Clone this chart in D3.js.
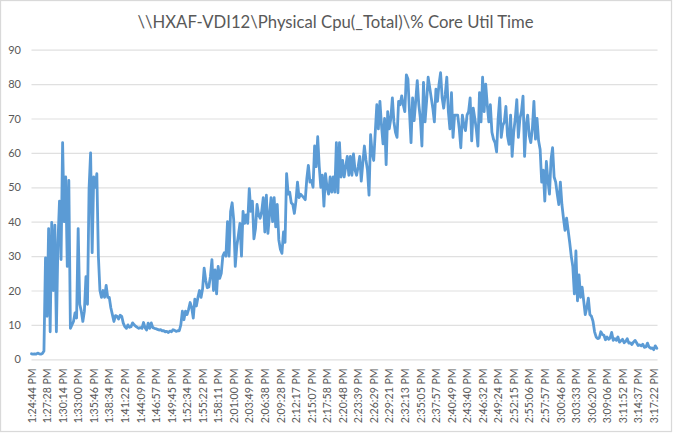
<!DOCTYPE html>
<html>
<head>
<meta charset="utf-8">
<script src="https://cdn.jsdelivr.net/npm/d3@7"></script>
<style>
  html, body { margin: 0; padding: 0; background: #fff; }
  svg { display: block; }
  text { font-family: Lato, "Open Sans", sans-serif; fill: #595959; }
</style>
</head>
<body>
<div id="chart"></div>
<script>
// one label every 10 samples
var tickLabels = [
  "1:24:44 PM", "1:27:28 PM", "1:30:14 PM", "1:33:00 PM", "1:35:46 PM", "1:38:34 PM", "1:41:22 PM", "1:44:09 PM",
  "1:46:57 PM", "1:49:45 PM", "1:52:34 PM", "1:55:22 PM", "1:58:11 PM", "2:01:00 PM", "2:03:49 PM", "2:06:38 PM",
  "2:09:28 PM", "2:12:17 PM", "2:15:07 PM", "2:17:58 PM", "2:20:48 PM", "2:23:39 PM", "2:26:29 PM", "2:29:21 PM",
  "2:32:13 PM", "2:35:05 PM", "2:37:57 PM", "2:40:49 PM", "2:43:40 PM", "2:46:32 PM", "2:49:24 PM", "2:52:15 PM",
  "2:55:06 PM", "2:57:57 PM", "3:00:46 PM", "3:03:33 PM", "3:06:20 PM", "3:09:06 PM", "3:11:52 PM", "3:14:37 PM",
  "3:17:22 PM"
];

var yTicks = [0, 10, 20, 30, 40, 50, 60, 70, 80, 90];

var coreUtil = [
  1.6, 1.5, 1.6, 1.5, 1.8, 1.6, 1.5, 1.7, 2.4, 29.5,
  12.5, 38, 8, 39.8, 20, 39, 8, 34, 46, 29, 63,
  40, 53, 27, 52, 9, 10, 11, 13.5, 12, 38,
  16, 14, 11, 14, 24, 16, 49.5, 60, 31, 53,
  50, 54, 30, 20, 18, 20, 18, 21.5, 18, 18,
  15, 13, 11, 12.7, 12.5, 11.7, 12.8, 12.5, 10.5, 9.5, 9,
  10, 9.3, 9.5, 10.6, 10, 9.6, 9.3, 9, 9.2, 9,
  10.7, 9.2, 8.5, 10.5, 9, 10.6, 9.2, 9, 8.9, 8.7,
  8.5, 8.6, 8.3, 8.3, 8, 8.1, 7.8, 8.2, 8, 8.6,
  8.4, 8.1, 8.3, 8.3, 10, 14, 11.5, 14, 13, 14.5, 16.5,
  15, 12, 17.5, 15.5, 18, 20, 18, 20.5, 26.5, 23,
  20.8, 21, 24, 29, 20, 26, 19, 27, 23.5, 25,
  30, 31, 30, 40, 30, 43, 45.5, 40.5, 27, 33,
  36, 39.5, 30, 43, 39.5, 42, 39.5, 49.6, 43, 46, 35,
  38, 45, 42, 41, 43, 47, 37, 47.7, 36.6, 42,
  47, 40, 47, 38.5, 45, 34.7, 32, 30.8, 37, 34,
  54, 48, 48.6, 45.5, 45, 42.4, 46, 51.5, 47, 48,
  47.5, 47, 46.4, 52.5, 56.4, 51.5, 52, 50, 62, 56, 64.7,
  56, 50, 53.5, 44.5, 54, 50, 48, 53, 48.6, 53,
  48.6, 63, 48.4, 63, 53, 57.8, 53, 56, 59, 53.5,
  59, 53.5, 59.7, 55, 53.5, 56, 59, 51.8, 57, 62,
  58, 55, 47.7, 65.3, 60, 57.8, 66, 74, 67, 75, 68,
  62.6, 70, 56.6, 72, 67, 70, 76, 69, 66, 64.5,
  75, 74, 76.6, 74, 72, 82.7, 81.5, 72, 63, 76,
  69.4, 75, 81, 74, 70, 62, 80.5, 69, 75, 82,
  79, 76, 73, 69, 78.5, 75, 80, 83.3, 76, 73, 77,
  82, 72, 67, 77.5, 64.5, 71, 71, 71, 67, 61.5,
  71, 68, 66.5, 71, 72, 76, 63.5, 73, 70, 66.8,
  62, 77.5, 69, 82, 72, 80, 74, 69, 74, 66,
  64, 63, 60.3, 70, 76, 64.5, 68, 69, 73.5, 65, 62.5,
  71, 59, 66, 70, 75.5, 64.5, 70, 72, 76.5, 59,
  68, 71, 65, 63, 67, 75, 64, 70, 63.5, 61,
  51.5, 55, 46, 57.5, 52, 48, 58, 61.5, 53, 51.5,
  48, 45, 51.5, 45, 41, 37.5, 41, 37.5, 34, 30, 27,
  19, 31.5, 17, 24.5, 18, 21, 17, 13, 15, 17.8,
  13, 12.5, 11, 8, 6.5, 6, 6.2, 8, 7.2, 7,
  5.7, 6.5, 5.8, 6.2, 7.8, 5.5, 6, 5.5, 6.5, 5,
  5.4, 5.8, 4.8, 5.2, 6, 4.7, 4.8, 4.3, 5, 5.5, 4.8,
  4, 4.2, 3.9, 4.4, 3.5, 3.6, 4.7, 3.6, 3.2, 3.3,
  2.8, 3.9, 3.2
];

var width = 673,
  height = 433;

var svg = d3
  .select("#chart")
  .append("svg")
  .attr("width", width)
  .attr("height", height);

// chart frame
svg
  .append("rect")
  .attr("x", 0.5)
  .attr("y", 0.5)
  .attr("width", 671)
  .attr("height", 431)
  .attr("fill", "#fff")
  .attr("stroke", "#d9d9d9")
  .attr("stroke-width", 1.25);

svg
  .append("text")
  .attr("x", 335.5)
  .attr("y", 28)
  .attr("text-anchor", "middle")
  .style("font-size", "16.7px")
  .text("\\\\HXAF-VDI12\\Physical Cpu(_Total)\\% Core Util Time");

var xscale = d3
  .scalePoint()
  .domain(d3.range(coreUtil.length))
  .range([31.5, 656.8]);

var yscale = d3.scaleLinear().domain([0, 90]).range([359.3, 49.7]);

var grid = d3
  .axisLeft(yscale)
  .tickValues(yTicks)
  .tickSize(-626)
  .tickFormat("");

svg
  .append("g")
  .attr("transform", "translate(31.5, 0)")
  .call(grid)
  .call((g) => g.select(".domain").remove())
  .selectAll("line")
  .attr("stroke", "#e0e0e0")
  .attr("stroke-width", 1.2);

var y_axis = d3.axisLeft(yscale).tickValues(yTicks).tickSize(0).tickPadding(0);

svg
  .append("g")
  .attr("transform", "translate(21, 0)")
  .call(y_axis)
  .call((g) => g.select(".domain").remove())
  .selectAll("text")
  .style("font-size", "11px");

var x_axis = d3
  .axisBottom(xscale)
  .tickValues(d3.range(0, coreUtil.length, 10))
  .tickSize(0)
  .tickFormat((d, i) => tickLabels[i]);

svg
  .append("g")
  .attr("transform", "translate(0, 359.3)")
  .call(x_axis)
  .call((g) => g.select(".domain").remove())
  .selectAll("text")
  .style("font-size", "10.6px")
  .attr("text-anchor", "end")
  .attr("transform", "rotate(-90)")
  .attr("x", -9)
  .attr("y", 0)
  .attr("dy", "0.35em");

var line = d3
  .line()
  .x((d, i) => xscale(i))
  .y((d) => yscale(d));

svg
  .append("path")
  .datum(coreUtil)
  .attr("d", line)
  .attr("fill", "none")
  .attr("stroke", "#5b9bd5")
  .attr("stroke-width", 2.8)
  .attr("stroke-linejoin", "round")
  .attr("stroke-linecap", "round");
</script>
</body>
</html>
